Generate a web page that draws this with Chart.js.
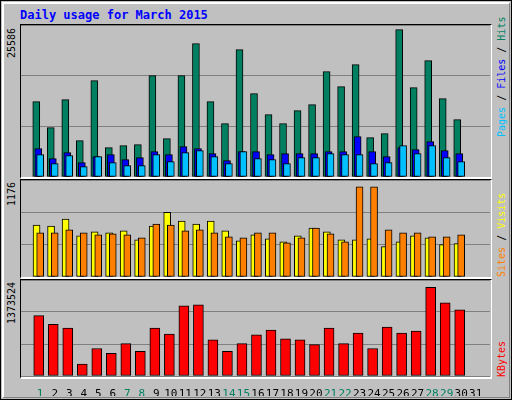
<!DOCTYPE html>
<html>
<head>
<meta charset="utf-8">
<script src="https://cdn.jsdelivr.net/npm/chart.js@4/dist/chart.umd.min.js"></script>
<style>
  body { margin: 0; background: #fff; }
  #frame { position: absolute; left: 0; top: 0; width: 510px; height: 398px; background: #c0c0c0;
    border: 1px solid #000; box-sizing: content-box; }
  #bevel { position: absolute; left: 1px; top: 1px; width: 505px; height: 393px;
    border-top: 2px solid #fff; border-left: 2px solid #fff; border-right: 1px solid #808080; border-bottom: 1px solid #808080; }
  .title { position: absolute; left: 20px; top: 8px; font: bold 12px "DejaVu Sans Mono", monospace; color: #0000ff; }
  .panel { position: absolute; left: 20px; width: 472px; border-top: 1px solid #000; border-left: 1px solid #000;
    border-right: 1px solid #fff; border-bottom: 2px solid #fff; box-sizing: border-box; }
  canvas { position: absolute; }
  .vlab { position: absolute; transform-origin: 0 0; transform: rotate(-90deg); white-space: nowrap;
    font: 10px "DejaVu Sans Mono", monospace; line-height: 12px; }
</style>
</head>
<body>
<div id="frame"><div id="bevel"></div></div>
<div class="title">Daily usage for March 2015</div>
<div class="panel" style="top:24px;height:155px"></div>
<div class="panel" style="top:179px;height:100px"></div>
<div class="panel" style="top:279px;height:100px"></div>
<canvas id="c1" style="left:21px;top:25px" width="469" height="152"></canvas>
<canvas id="c2" style="left:21px;top:180px" width="469" height="97"></canvas>
<canvas id="c3" style="left:21px;top:280px" width="469" height="116"></canvas>
<div class="vlab" style="left:6px;top:58px">25586</div>
<div class="vlab" style="left:6px;top:206px">1176</div>
<div class="vlab" style="left:6px;top:324px">1373524</div>
<div class="vlab" style="left:496px;top:137px"><span style="color:#00c0ff">Pages</span> / <span style="color:#0000ff">Files</span> / <span style="color:#008060">Hits</span></div>
<div class="vlab" style="left:496px;top:277px"><span style="color:#ff8000">Sites</span> / <span style="color:#ffff00">Visits</span></div>
<div class="vlab" style="left:496px;top:377px"><span style="color:#ff0000">KBytes</span></div>
<script>
'use strict';

const days = Array.from({ length: 31 }, (_, i) => i + 1);
const weekendDays = [1, 7, 8, 14, 15, 21, 22, 28, 29];

const hits = [13100, 8580, 13430, 6320, 16730, 5100, 5450, 5620, 17600, 6670, 17600, 23150, 13100, 9270, 22110,
  14470, 10830, 9270, 11520, 12570, 18300, 15690, 19510, 6840, 7530, 25586, 15520, 20200, 13610, 9960];
const files = [4920, 3180, 4230, 2490, 3530, 3880, 3010, 3360, 4400, 3880, 5270, 4920, 4050, 2840, 4400,
  4400, 3880, 4050, 4050, 4050, 4400, 4400, 7000, 4400, 3530, 5090, 4750, 6140, 4570, 4050];
const pages = [3880, 2320, 3700, 1790, 3530, 2490, 1970, 1970, 3880, 2660, 4230, 4570, 3530, 2320, 4400,
  3180, 3010, 2320, 3360, 3360, 4050, 3880, 3880, 2320, 2490, 5440, 4050, 5440, 3360, 2660];
const sites = [677, 665, 754, 537, 588, 575, 601, 486, 665, 844, 729, 690, 729, 601, 473,
  550, 498, 460, 537, 639, 588, 486, 486, 498, 396, 460, 537, 511, 422, 435];
const visits = [575, 575, 614, 575, 550, 562, 550, 511, 690, 677, 601, 614, 575, 524, 511,
  575, 575, 447, 511, 639, 562, 460, 1176, 1176, 614, 575, 575, 524, 524, 550];
const kbytes = [937000, 802000, 742000, 185000, 426000, 351000, 501000, 381000, 742000, 652000, 1088000, 1103000,
  561000, 381000, 501000, 637000, 712000, 576000, 561000, 486000, 742000, 501000, 667000, 426000, 757000,
  667000, 697000, 1373524, 1133000, 1028000];

const X_MIN = 0.7;
const X_MAX = X_MIN + 469 / 15;

function series(values, offset) {
  return values.map((v, i) => ({ x: days[i] + offset, y: v }));
}

function bar(values, offset, color, width) {
  return { data: series(values, offset), backgroundColor: color, borderColor: '#000', borderWidth: 1,
    borderSkipped: false, barThickness: width };
}

function panelOptions(yMax, showX) {
  return {
    responsive: false, animation: false, grouped: false,
    layout: { padding: 0 },
    plugins: { legend: { display: false }, tooltip: { enabled: false } },
    scales: {
      x: {
        type: 'linear', min: X_MIN, max: X_MAX, display: showX,
        grid: { display: false }, border: { display: false },
        afterBuildTicks: s => { s.ticks = days.map(d => ({ value: d + 0.5 })); },
        afterFit: s => { s.height = showX ? 20 : 0; },
        ticks: {
          autoSkip: false, maxRotation: 0, padding: 4,
          font: { family: 'DejaVu Sans Mono', size: 11 },
          callback: v => Math.round(v - 0.5),
          color: ctx => weekendDays.includes(Math.round(ctx.tick.value - 0.5)) ? '#008060' : '#000',
        },
      },
      y: {
        min: 0, max: yMax,
        afterBuildTicks: s => { s.ticks = [0, 1, 2, 3].map(k => ({ value: yMax * k / 3 })); },
        afterFit: s => { s.width = 0; },
        ticks: { display: false },
        grid: { color: '#808080', drawTicks: false, lineWidth: 1 },
        border: { display: false },
      },
    },
  };
}

new Chart(document.getElementById('c1'), {
  type: 'bar',
  data: { datasets: [
    bar(pages, 0.5, '#00c0ff', 7),
    bar(files, 0.37, '#0000ff', 7),
    bar(hits, 0.23, '#008060', 7),
  ] },
  options: panelOptions(26396, false),
});

new Chart(document.getElementById('c2'), {
  type: 'bar',
  data: { datasets: [
    bar(visits, 0.5, '#ff8000', 7),
    bar(sites, 0.25, '#ffff00', 7),
  ] },
  options: panelOptions(1265, false),
});

new Chart(document.getElementById('c3'), {
  type: 'bar',
  data: { datasets: [bar(kbytes, 0.4, '#ff0000', 10)] },
  options: panelOptions(1488800, true),
});
</script>
</body>
</html>
